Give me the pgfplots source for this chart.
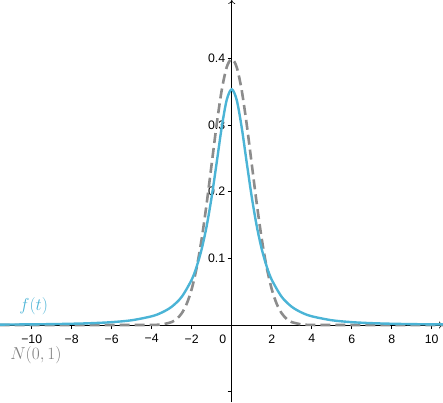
\documentclass[border=0pt]{standalone}
\usepackage{pgfplots}
\pgfplotsset{compat=1.18}
\usetikzlibrary{arrows.meta}
\usepackage{fontspec}
\setsansfont{Liberation Sans}
\definecolor{tblue}{HTML}{4BB4D6}
\definecolor{ngray}{HTML}{8C8C8C}
\definecolor{lgray}{HTML}{808080}

% t distribution, 2 degrees of freedom
\pgfplotstableread{
x y
-11.6 0.00063
-10 0.00097
-9 0.00132
-8 0.00187
-7 0.00275
-6 0.00427
-5 0.00713
-4 0.0131
-3.5 0.0186
-3 0.0274
-2.5 0.0422
-2 0.0680
-1.75 0.0878
-1.5 0.1141
-1.25 0.1487
-1 0.1925
-0.75 0.2438
-0.5 0.2963
-0.25 0.3376
0 0.3536
0.25 0.3376
0.5 0.2963
0.75 0.2438
1 0.1925
1.25 0.1487
1.5 0.1141
1.75 0.0878
2 0.0680
2.5 0.0422
3 0.0274
3.5 0.0186
4 0.0131
5 0.00713
6 0.00427
7 0.00275
8 0.00187
9 0.00132
10 0.00097
10.6 0.00082
}\tdata

% standard normal
\pgfplotstableread{
x y
-11.6 0
-5 0
-4 0.00013
-3.5 0.00087
-3 0.0044
-2.75 0.0091
-2.5 0.0175
-2.25 0.0317
-2 0.0540
-1.75 0.0863
-1.5 0.1295
-1.25 0.1826
-1 0.2420
-0.75 0.3011
-0.5 0.3521
-0.25 0.3867
0 0.3989
0.25 0.3867
0.5 0.3521
0.75 0.3011
1 0.2420
1.25 0.1826
1.5 0.1295
1.75 0.0863
2 0.0540
2.25 0.0317
2.5 0.0175
2.75 0.0091
3 0.0044
3.5 0.00087
4 0.00013
5 0
10.6 0
}\ndata

\begin{document}
\begin{tikzpicture}
\begin{axis}[
    scale only axis,
    width=443pt,
    height=402pt,
    xmin=-11.585, xmax=10.565,
    ymin=-0.1155, ymax=0.4875,
    axis lines=middle,
    axis line style={black, line width=0.6pt, -{To[length=4pt,width=7pt]}},
    xtick={-10,-8,-6,-4,-2,2,4,6,8,10},
    xticklabels={−10,−8,−6,−4,−2,2,4,6,8,10},
    ytick={-0.1,0.1,0.2,0.3,0.4},
    yticklabels={,0.1,0.2,0.3,0.4},
    tick label style={font=\sffamily\fontsize{12.3}{14}\selectfont},
    /pgf/number format/assume math mode=true,
    x tick style={black, line width=0.6pt, yshift=-2pt},
    y tick style={black, line width=0.6pt, xshift=-2pt},
    major tick length=4pt,
    xticklabel style={yshift=-4pt},
    yticklabel style={xshift=-1pt},
    clip=false,
]
\addplot[ngray, line width=2.6pt, dash pattern=on 10pt off 5pt, smooth] table {\ndata};
\addplot[tblue, line width=2.4pt, smooth] table {\tdata};
\node[font=\sffamily\fontsize{12.3}{14}\selectfont] at (axis cs:-0.45,-0.021) {0};
\node[tblue, font=\fontsize{18}{21}\selectfont] at (axis cs:-9.9,0.028) {$f(t)$};
\node[lgray, font=\fontsize{19}{21}\selectfont, inner sep=0pt] at (axis cs:-9.79,-0.046) {$N(0,1)$};
\end{axis}
\pgfresetboundingbox
\path[use as bounding box] (current axis.south west) rectangle (current axis.north east);
\end{tikzpicture}
\end{document}
